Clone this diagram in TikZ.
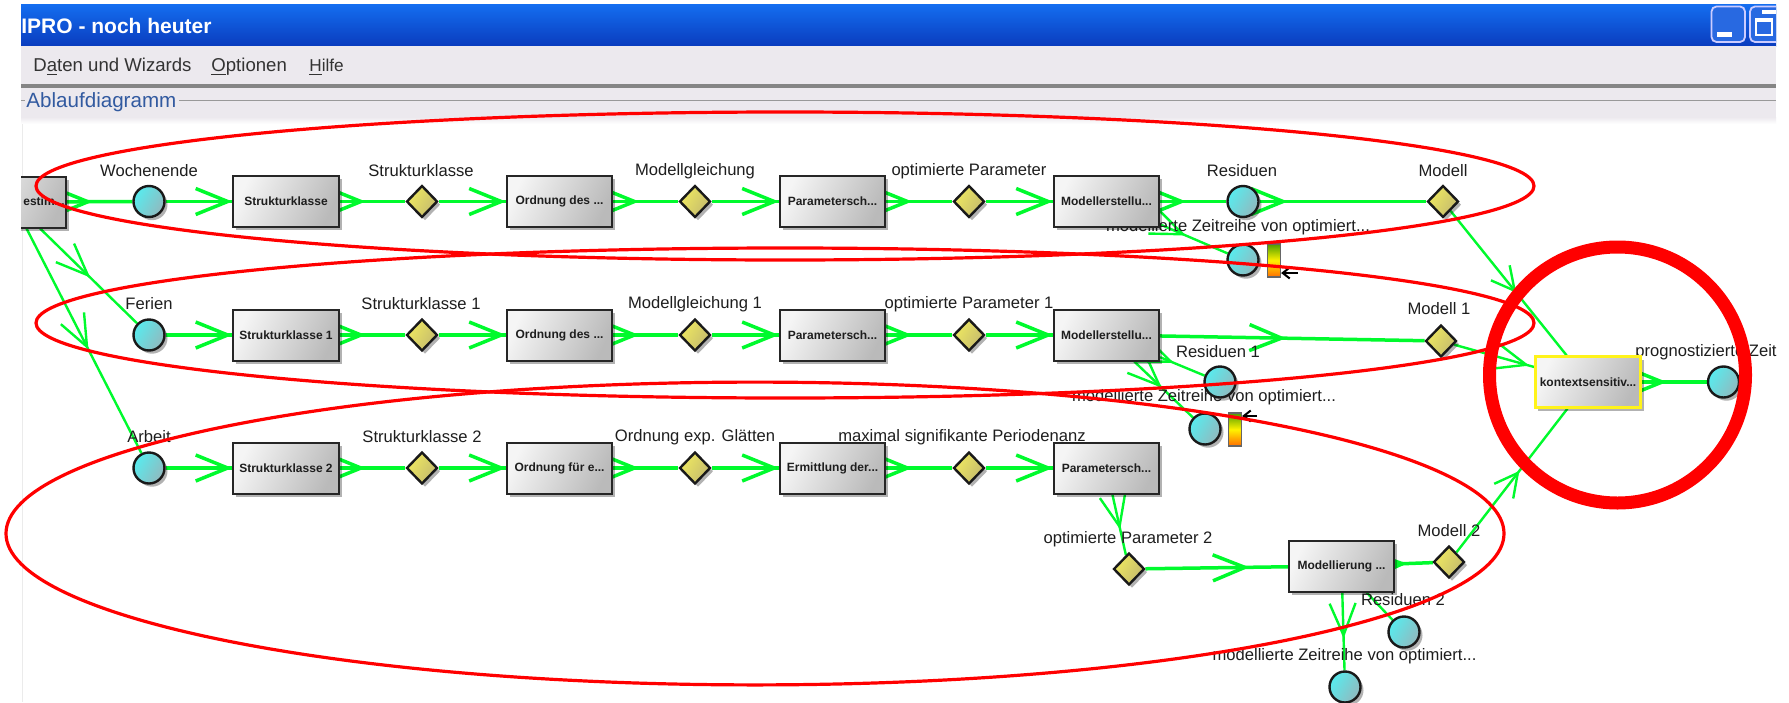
\documentclass[tikz,border=0pt]{standalone}
\usepackage{fontspec}
\setmainfont{Liberation Sans}
\usetikzlibrary{shapes.geometric,arrows.meta,decorations.markings,shadows}
\pgfdeclarelayer{edgelayer}
\pgfdeclarelayer{labellayer}
\pgfdeclarelayer{redlayer}
\pgfsetlayers{edgelayer,labellayer,main,redlayer}
\definecolor{flowgreen}{RGB}{0,250,45}
\definecolor{chrome}{RGB}{236,233,238}
\definecolor{txt}{RGB}{30,30,30}
\definecolor{titletop}{RGB}{20,110,240}
\definecolor{titlemid}{RGB}{0,85,230}
\definecolor{titlebot}{RGB}{10,60,190}
\definecolor{dotlight}{RGB}{88,235,238}
\definecolor{dotdark}{RGB}{145,185,190}
\definecolor{dialight}{RGB}{238,232,96}
\definecolor{diadark}{RGB}{196,186,110}
\definecolor{sectionblue}{RGB}{50,90,160}
\definecolor{btn}{RGB}{40,105,225}
\tikzset{
  shadowed/.style={drop shadow={shadow xshift=1.5pt,shadow yshift=-1.6pt,opacity=.3,fill=black}},
  pbox/.style={shape=rectangle,shadowed,draw=black!85,line width=1pt,minimum width=52.6pt,minimum height=25.5pt,inner sep=0pt,
    left color=white!96!black,right color=black!27,shading angle=65,font=\fontsize{6pt}{7pt}\selectfont\bfseries,text=txt},
  pdot/.style={shape=circle,shadowed,draw=black!90,line width=1.2pt,minimum size=15.5pt,inner sep=0pt,
    left color=dotlight,right color=dotdark,shading angle=60},
  pdia/.style={shape=diamond,shadowed,draw=black!90,line width=1.2pt,minimum width=15.5pt,minimum height=16pt,inner sep=0pt,aspect=1,
    left color=dialight,right color=diadark,shading angle=60},
  lbl/.style={font=\fontsize{8.3pt}{10pt}\selectfont,text=txt,inner sep=0pt},
  menutext/.style={font=\fontsize{9.3pt}{12pt}\selectfont,text=black!80,inner sep=0pt,anchor=west},
  bar/.style={shape=rectangle,draw=black!60,line width=.6pt,minimum width=6.5pt,minimum height=16.5pt,inner sep=0pt,
    top color=green!45!black!70!yellow,bottom color=orange!85!red,middle color=yellow!90!orange},
  thick edge/.style={color=flowgreen,line width=1.75pt},
  thin edge/.style={color=flowgreen,line width=1.2pt},
  flow/.style={postaction={decorate,decoration={markings,mark=at position #1 with {\arrow{Straight Barb[length=16pt,width=13pt]}}}}},
  flowshort/.style={postaction={decorate,decoration={markings,mark=at position #1 with {\arrow{Straight Barb[length=11.5pt,width=12pt]}}}}},
  ring/.style={draw=red,line width=1.6pt},
  cursorarrow/.style={draw=black,line width=1pt,-{Straight Barb[length=3.5pt,width=5.5pt]}},
}
\begin{document}
\begin{tikzpicture}[x=0.5pt,y=-0.5pt]
\useasboundingbox (0,0) rectangle (1789,702);

% ---------- window chrome
\begin{pgfonlayer}{edgelayer}
\fill[white] (0,0) rectangle (1789,702);
\shade[top color=titletop,middle color=titlemid,bottom color=titlebot] (21,4) rectangle (1776,46);
\fill[chrome] (21,46) rectangle (1776,84);
\fill[black!48] (21,84) rectangle (1776,87.5);
\fill[chrome] (21,87.5) rectangle (1776,117);
\shade[top color=chrome,bottom color=white] (21,117) rectangle (1776,124);
\draw[black!40,line width=.5pt] (179,100.5) -- (1776,100.5);
\draw[black!40,line width=.5pt] (21,100.5) -- (25,100.5);
\draw[black!8,line width=.5pt] (22,124) -- (22,702);
\begin{scope}
  \clip (21,0) rectangle (1776,702);
  \node[anchor=west,inner sep=0pt,text=white,font=\fontsize{10.5pt}{13pt}\selectfont\bfseries] (title) at (21,26) {IPRO - noch heuter};
  \draw[blue!20!white,line width=.9pt,fill=btn,rounded corners=2.5pt] (1711.5,6.5) rectangle (1745,42);
  \fill[white] (1717,32) rectangle (1732,37);
  \draw[blue!20!white,line width=.9pt,fill=btn,rounded corners=2.5pt] (1750,6.5) rectangle (1790,42);
  \fill[white] (1762,10) rectangle (1776,13.5);
  \draw[white,line width=.9pt] (1756,19) rectangle (1772,35);
  \fill[white] (1756,18) rectangle (1772,22);
\end{scope}
\node[menutext] (m1) at (33,67) {D\underline{a}ten und Wizards};
\node[menutext] (m2) at (211,67) {\underline{O}ptionen};
\node[menutext,font=\fontsize{8.6pt}{12pt}\selectfont] (m3) at (309,67) {\underline{H}ilfe};
\node[inner sep=0pt,anchor=west,text=sectionblue,font=\fontsize{10.3pt}{12pt}\selectfont] (sec) at (26,102) {Ablaufdiagramm};
\end{pgfonlayer}

% ---------- nodes
\begin{scope}
  \clip (21,0) rectangle (1776,702);
  \node[pbox] (first) at (13,202) {};
\end{scope}
\node[pdot] (woch) at (149,201.5) {};
\node[pbox] (a1) at (286,201.5) {Strukturklasse};
\node[pdia] (d1) at (422,201.5) {};
\node[pbox] (a2) at (559.5,201.5) {Ordnung des ...};
\node[pdia] (d2) at (695,201.5) {};
\node[pbox] (a3) at (832.5,201.5) {Parametersch...};
\node[pdia] (d3) at (969,201.5) {};
\node[pbox] (a4) at (1106.5,201.5) {Modellerstellu...};
\node[pdot] (res) at (1243,201.5) {};
\node[pdia] (mod) at (1443,201.5) {};
\node[pdot] (zr) at (1243,260) {};
\node[bar] (zrbar) at (1274,260.5) {};

\node[pdot] (fer) at (149,335) {};
\node[pbox] (b1) at (286,335) {Strukturklasse 1};
\node[pdia] (e1) at (422,335) {};
\node[pbox] (b2) at (559.5,335) {Ordnung des ...};
\node[pdia] (e2) at (695,335) {};
\node[pbox] (b3) at (832.5,335) {Parametersch...};
\node[pdia] (e3) at (969,335) {};
\node[pbox] (b4) at (1106.5,335) {Modellerstellu...};
\node[pdia] (modb) at (1441,341) {};
\node[pdot] (resb) at (1220,382) {};
\node[pdot] (zrb) at (1205,429) {};
\node[bar] (zrbbar) at (1235,429.5) {};

\node[pdot] (arb) at (149,468) {};
\node[pbox] (c1) at (286,468) {Strukturklasse 2};
\node[pdia] (f1) at (422,468) {};
\node[pbox] (c2) at (559.5,468) {Ordnung für e...};
\node[pdia] (f2) at (695,468) {};
\node[pbox] (c3) at (832.5,468) {Ermittlung der...};
\node[pdia] (f3) at (969,468) {};
\node[pbox] (c4) at (1106.5,468) {Parametersch...};
\node[pdia] (opt) at (1129,569) {};
\node[pbox] (c5) at (1341.5,566) {Modellierung ...};
\node[pdia] (modc) at (1449,562) {};
\node[pdot] (resc) at (1404,632) {};
\node[pdot] (zrc) at (1345,687) {};

\node[pbox,draw=yellow!90!white,line width=1.2pt] (k) at (1588,382) {kontextsensitiv...};
\node[pdot] (fin) at (1723.5,382) {};

% ---------- first box text, cut at the window edge
\begin{scope}
  \clip (21,170) rectangle (70,235);
  \node[anchor=west,inner sep=0pt,font=\fontsize{6pt}{7pt}\selectfont\bfseries,text=txt] (firsttext) at (23,201) {estim...};
\end{scope}

% ---------- labels
\begin{pgfonlayer}{labellayer}
\node[lbl] (l01) at (149,171) {Wochenende};
\node[lbl] (l02) at (421,171) {Strukturklasse};
\node[lbl] (l03) at (695,171) {Modellgleichung};
\node[lbl] (l04) at (969,171) {optimierte Parameter};
\node[lbl] (l05) at (1242,171) {Residuen};
\node[lbl] (l06) at (1443,171) {Modell};
\node[lbl] (l07) at (1238,227) {modellierte Zeitreihe von optimiert...};
\node[lbl] (l08) at (149,304) {Ferien};
\node[lbl] (l09) at (421,304) {Strukturklasse 1};
\node[lbl] (l10) at (695,304) {Modellgleichung 1};
\node[lbl] (l11) at (969,304) {optimierte Parameter 1};
\node[lbl] (l12) at (1439,309) {Modell 1};
\node[lbl] (l13) at (1218,352) {Residuen 1};
\node[lbl] (l14) at (1204,397) {modellierte Zeitreihe von optimiert...};
\node[lbl] (l15) at (149,437) {Arbeit};
\node[lbl] (l16) at (422,437) {Strukturklasse 2};
\node[lbl] (l17) at (695,437) {Ordnung exp. Glätten};
\node[lbl] (l18) at (962,437) {maximal signifikante Periodenanz};
\node[lbl] (l19) at (1128,539) {optimierte Parameter 2};
\node[lbl] (l20) at (1449,531) {Modell 2};
\node[lbl] (l21) at (1403,600) {Residuen 2};
\node[lbl] (l22) at (1344.5,656) {modellierte Zeitreihe von optimiert...};
\begin{scope}
  \clip (1600,330) rectangle (1776,370);
  \node[lbl,anchor=west] (l23) at (1635,352) {prognostizierte Zeitr};
\end{scope}
\end{pgfonlayer}

% ---------- connectors
\begin{pgfonlayer}{edgelayer}
\draw[thick edge,flow=13pt] (first) -- (woch);
\draw[thick edge,flow=0.999] (woch) -- (a1);
\draw[thick edge,flow=13pt] (a1) -- (d1);
\draw[thick edge,flow=0.999] (d1) -- (a2);
\draw[thick edge,flow=13pt] (a2) -- (d2);
\draw[thick edge,flow=0.999] (d2) -- (a3);
\draw[thick edge,flow=13pt] (a3) -- (d3);
\draw[thick edge,flow=0.999] (d3) -- (a4);
\draw[thick edge,flow=13pt] (a4) -- (res);
\draw[thick edge,flow=14pt] (res) -- (mod);
\draw[thin edge,flow=14pt] (a4) -- (zr);
\draw[thin edge,flow=35pt] (first) -- (fer);
\draw[thin edge,flow=68pt] (first) -- (arb);
\draw[thick edge,flow=0.999] (fer) -- (b1);
\draw[thick edge,flow=13pt] (b1) -- (e1);
\draw[thick edge,flow=0.999] (e1) -- (b2);
\draw[thick edge,flow=13pt] (b2) -- (e2);
\draw[thick edge,flow=0.999] (e2) -- (b3);
\draw[thick edge,flow=13pt] (b3) -- (e3);
\draw[thick edge,flow=0.999] (e3) -- (b4);
\draw[thick edge,flow=63pt] (b4) -- (modb);
\draw[thin edge,flow=7.5pt] (b4) -- (resb);
\draw[thin edge,flow=19pt] (b4) -- (zrb);
\draw[thick edge,flow=0.999] (arb) -- (c1);
\draw[thick edge,flow=13pt] (c1) -- (f1);
\draw[thick edge,flow=0.999] (f1) -- (c2);
\draw[thick edge,flow=13pt] (c2) -- (f2);
\draw[thick edge,flow=0.999] (f2) -- (c3);
\draw[thick edge,flow=13pt] (c3) -- (f3);
\draw[thick edge,flow=0.999] (f3) -- (c4);
\draw[thin edge,flow=18pt] (c4) -- (opt);
\draw[thick edge,flow=52pt] (opt) -- (c5);
\draw[thick edge,flow=6pt] (c5) -- (modc);
\draw[thin edge] (c5) -- (resc);
\draw[thin edge,flow=23pt] (c5) -- (zrc);
\draw[thin edge,flowshort=52.5pt] (mod) -- (k);
\draw[thin edge,flow=39pt] (modb) -- (k);
\draw[thin edge,flowshort=51.5pt] (modc) -- (k);
\draw[thick edge,flow=12.5pt] (k) -- (fin);
\end{pgfonlayer}

% ---------- little pointers at the bars
\coordinate (p1) at (1298,273);
\coordinate (p2) at (1257,416);
\draw[cursorarrow] (p1) -- (zrbar.east |- p1);
\draw[cursorarrow] (p2) -- (zrbbar.east |- p2);

% ---------- red highlights
\begin{pgfonlayer}{redlayer}
\draw[ring] (785,186) ellipse [x radius=374.5pt,y radius=37pt];
\draw[ring] (785,323) ellipse [x radius=374.5pt,y radius=37.5pt];
\draw[ring] (755,533.5) ellipse [x radius=374.5pt,y radius=75.7pt];
\draw[draw=red,line width=6.5pt] (1617.5,375) ellipse [x radius=64pt,y radius=64pt];
\end{pgfonlayer}
\end{tikzpicture}
\end{document}
